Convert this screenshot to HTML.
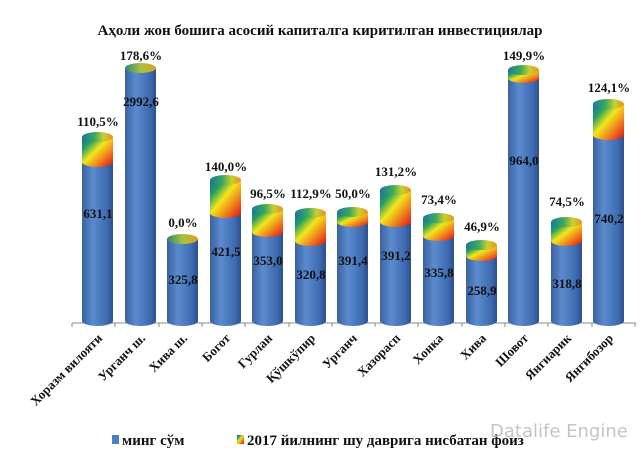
<!DOCTYPE html>
<html><head><meta charset="utf-8"><style>
body{margin:0;background:#fff;}
svg text{font-family:"Liberation Serif",serif;font-weight:bold;fill:#111;}
</style></head><body>
<svg width="644" height="466" viewBox="0 0 644 466" xmlns="http://www.w3.org/2000/svg">
<defs>
<linearGradient id="bl" x1="0" y1="0" x2="1" y2="0">
<stop offset="0" stop-color="#3a62a0"/><stop offset="0.35" stop-color="#5b8bd0"/><stop offset="0.8" stop-color="#3e6bb0"/><stop offset="1" stop-color="#2c5090"/></linearGradient>
<linearGradient id="rb" x1="0" y1="0" x2="1" y2="1">
<stop offset="0" stop-color="#1a6aa8"/><stop offset="0.22" stop-color="#22a060"/><stop offset="0.45" stop-color="#f2e61c"/><stop offset="0.68" stop-color="#f08a1c"/><stop offset="0.9" stop-color="#e2321c"/><stop offset="1" stop-color="#d02818"/></linearGradient>
<linearGradient id="tp" x1="0" y1="0" x2="1" y2="0">
<stop offset="0" stop-color="#2a8a70"/><stop offset="0.5" stop-color="#a8c040"/><stop offset="1" stop-color="#e0a020"/></linearGradient>
<linearGradient id="te" x1="0" y1="0" x2="1" y2="0">
<stop offset="0" stop-color="#1a7a9a"/><stop offset="0.4" stop-color="#3aa860"/><stop offset="0.7" stop-color="#c8d030"/><stop offset="1" stop-color="#e89020"/></linearGradient>
</defs>
<text x="320" y="35" font-size="15" text-anchor="middle">Аҳоли жон бошига асосий капиталга киритилган инвестициялар</text>
<line x1="72" y1="323" x2="636" y2="323" stroke="#888"/>
<g stroke="#888">
<line x1="72" y1="323" x2="72" y2="327"/><line x1="115" y1="323" x2="115" y2="327"/><line x1="159" y1="323" x2="159" y2="327"/><line x1="202" y1="323" x2="202" y2="327"/><line x1="245" y1="323" x2="245" y2="327"/><line x1="289" y1="323" x2="289" y2="327"/><line x1="332" y1="323" x2="332" y2="327"/><line x1="375" y1="323" x2="375" y2="327"/><line x1="418" y1="323" x2="418" y2="327"/><line x1="462" y1="323" x2="462" y2="327"/><line x1="505" y1="323" x2="505" y2="327"/><line x1="548" y1="323" x2="548" y2="327"/><line x1="592" y1="323" x2="592" y2="327"/><line x1="635" y1="323" x2="635" y2="327"/>
</g>

<g>
<path d="M82,162 L82,321 A15.5,5 0 0 0 113,321 L113,162 Z" fill="url(#bl)"/>
<path d="M82,137 L82,162 A15.5,5 0 0 0 113,162 L113,137 Z" fill="url(#rb)"/><ellipse cx="97.5" cy="137" rx="15.5" ry="5" fill="url(#te)"/>
<path d="M125,68 L125,321 A15.5,5 0 0 0 156,321 L156,68 Z" fill="url(#bl)"/><ellipse cx="140.5" cy="68" rx="15.5" ry="5" fill="url(#tp)"/>
<path d="M167,239 L167,321 A15.5,5 0 0 0 198,321 L198,239 Z" fill="url(#bl)"/><ellipse cx="182.5" cy="239" rx="15.5" ry="5" fill="url(#tp)"/>
<path d="M210,213 L210,321 A15.5,5 0 0 0 241,321 L241,213 Z" fill="url(#bl)"/>
<path d="M210,180 L210,213 A15.5,5 0 0 0 241,213 L241,180 Z" fill="url(#rb)"/><ellipse cx="225.5" cy="180" rx="15.5" ry="5" fill="url(#te)"/>
<path d="M252,232 L252,321 A15.5,5 0 0 0 283,321 L283,232 Z" fill="url(#bl)"/>
<path d="M252,209 L252,232 A15.5,5 0 0 0 283,232 L283,209 Z" fill="url(#rb)"/><ellipse cx="267.5" cy="209" rx="15.5" ry="5" fill="url(#te)"/>
<path d="M295,241 L295,321 A15.5,5 0 0 0 326,321 L326,241 Z" fill="url(#bl)"/>
<path d="M295,213 L295,241 A15.5,5 0 0 0 326,241 L326,213 Z" fill="url(#rb)"/><ellipse cx="310.5" cy="213" rx="15.5" ry="5" fill="url(#te)"/>
<path d="M337,222 L337,321 A15.5,5 0 0 0 368,321 L368,222 Z" fill="url(#bl)"/>
<path d="M337,212 L337,222 A15.5,5 0 0 0 368,222 L368,212 Z" fill="url(#rb)"/><ellipse cx="352.5" cy="212" rx="15.5" ry="5" fill="url(#te)"/>
<path d="M380,222 L380,321 A15.5,5 0 0 0 411,321 L411,222 Z" fill="url(#bl)"/>
<path d="M380,190 L380,222 A15.5,5 0 0 0 411,222 L411,190 Z" fill="url(#rb)"/><ellipse cx="395.5" cy="190" rx="15.5" ry="5" fill="url(#te)"/>
<path d="M423,236 L423,321 A15.5,5 0 0 0 454,321 L454,236 Z" fill="url(#bl)"/>
<path d="M423,218 L423,236 A15.5,5 0 0 0 454,236 L454,218 Z" fill="url(#rb)"/><ellipse cx="438.5" cy="218" rx="15.5" ry="5" fill="url(#te)"/>
<path d="M466,256 L466,321 A15.5,5 0 0 0 497,321 L497,256 Z" fill="url(#bl)"/>
<path d="M466,245 L466,256 A15.5,5 0 0 0 497,256 L497,245 Z" fill="url(#rb)"/><ellipse cx="481.5" cy="245" rx="15.5" ry="5" fill="url(#te)"/>
<path d="M508,78 L508,321 A15.5,5 0 0 0 539,321 L539,78 Z" fill="url(#bl)"/>
<path d="M508,70 L508,78 A15.5,5 0 0 0 539,78 L539,70 Z" fill="url(#rb)"/><ellipse cx="523.5" cy="70" rx="15.5" ry="5" fill="url(#te)"/>
<path d="M551,241 L551,321 A15.5,5 0 0 0 582,321 L582,241 Z" fill="url(#bl)"/>
<path d="M551,222 L551,241 A15.5,5 0 0 0 582,241 L582,222 Z" fill="url(#rb)"/><ellipse cx="566.5" cy="222" rx="15.5" ry="5" fill="url(#te)"/>
<path d="M593,135 L593,321 A15.5,5 0 0 0 624,321 L624,135 Z" fill="url(#bl)"/>
<path d="M593,104 L593,135 A15.5,5 0 0 0 624,135 L624,104 Z" fill="url(#rb)"/><ellipse cx="608.5" cy="104" rx="15.5" ry="5" fill="url(#te)"/>
</g>

<g font-size="13" text-anchor="middle">
<text x="98" y="218">631,1</text><text x="141" y="106">2992,6</text><text x="183" y="284">325,8</text><text x="226" y="256">421,5</text><text x="268" y="265">353,0</text><text x="311" y="279">320,8</text><text x="353" y="265">391,4</text><text x="396" y="260">391,2</text><text x="439" y="277">335,8</text><text x="482" y="295">258,9</text><text x="524" y="165">964,0</text><text x="567" y="288">318,8</text><text x="609" y="223">740,2</text>
</g>
<g font-size="13" text-anchor="middle">
<text x="98" y="126">110,5%</text><text x="141" y="60">178,6%</text><text x="183" y="227">0,0%</text><text x="226" y="171">140,0%</text><text x="268" y="198">96,5%</text><text x="311" y="198">112,9%</text><text x="353" y="198">50,0%</text><text x="396" y="176">131,2%</text><text x="439" y="204">73,4%</text><text x="482" y="231">46,9%</text><text x="524" y="60">149,9%</text><text x="567" y="206">74,5%</text><text x="609" y="92">124,1%</text>
</g>

<g font-size="13" text-anchor="end">
<text transform="translate(103,339) rotate(-45)">Хоразм вилояти</text>
<text transform="translate(146,339) rotate(-45)">Урганч ш.</text>
<text transform="translate(188,339) rotate(-45)">Хива ш.</text>
<text transform="translate(231,339) rotate(-45)">Богот</text>
<text transform="translate(273,339) rotate(-45)">Гурлан</text>
<text transform="translate(316,339) rotate(-45)">Қўшкўпир</text>
<text transform="translate(358,339) rotate(-45)">Урганч</text>
<text transform="translate(401,339) rotate(-45)">Хазорасп</text>
<text transform="translate(444,339) rotate(-45)">Хонка</text>
<text transform="translate(487,339) rotate(-45)">Хива</text>
<text transform="translate(529,339) rotate(-45)">Шовот</text>
<text transform="translate(572,339) rotate(-45)">Янгиарик</text>
<text transform="translate(614,339) rotate(-45)">Янгибозор</text>
</g>

<rect x="112" y="435" width="7" height="9" fill="#4f7fc0"/>
<text x="122" y="445" font-size="15">минг сўм</text>
<rect x="237" y="435" width="7" height="9" fill="url(#rb)"/>
<text x="247" y="445" font-size="15">2017 йилнинг шу даврига нисбатан фоиз</text>
<text x="490" y="437" font-size="18" style="font-family:'DejaVu Sans',sans-serif;font-weight:normal;fill:#c4c4c4">Datalife Engine</text>
</svg>
</body></html>
